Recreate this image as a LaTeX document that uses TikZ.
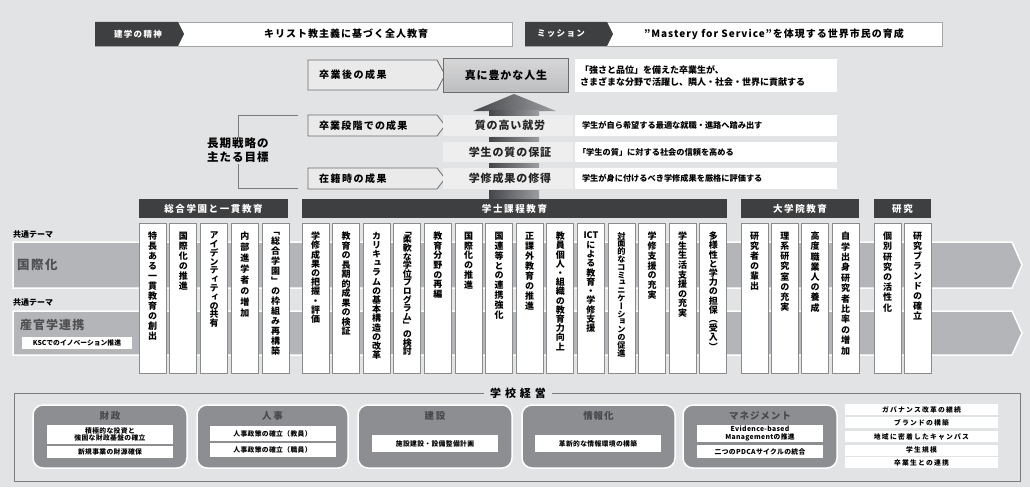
\documentclass[tikz,border=0pt]{standalone}
\usepackage{fontspec}
\setmainfont{Noto Sans CJK JP}
\newfontfamily\jpv{Noto Sans CJK JP}[RawFeature=+vert]
\definecolor{bgc}{HTML}{E2E3E5}
\definecolor{dark}{HTML}{3E3F41}
\definecolor{bandc}{HTML}{B4B5B8}
\definecolor{rboxc}{HTML}{8D8E91}
\definecolor{pentc}{HTML}{EAEAEB}
\definecolor{pentline}{HTML}{6B6C6E}
\definecolor{rowc}{HTML}{EEEEEF}
\definecolor{lineg}{HTML}{7A7B7D}
\definecolor{colline}{HTML}{8A8B8D}
\definecolor{boxline}{HTML}{A5A6A8}
\definecolor{txtg}{HTML}{505052}
\definecolor{rtitle}{HTML}{48494B}
\definecolor{arrdark}{HTML}{45464A}
\definecolor{arrlight}{HTML}{9C9DA0}
\definecolor{bigtop}{HTML}{D6D6D7}
\definecolor{bigbot}{HTML}{BDBEC0}
\newcommand\fsb[3]{\bfseries\fontsize{#1}{#3}\selectfont\addfontfeature{LetterSpace=#2}}
\newcommand\fs[2]{\fsb{#1}{#2}{#1}}
\ExplSyntaxOn
\NewDocumentCommand\vtx{O{10}m}
 {
  \vbox:n
   {
    \skip_set:Nn \baselineskip {#1pt}
    \dim_set:Nn \lineskiplimit {-\c_max_dim}
    \tl_map_inline:nn {#2} { \hbox_to_wd:nn {0pt} { \hss ##1 \hss } }
   }
 }
\ExplSyntaxOff
\tikzset{
  every node/.style={inner sep=0pt,outer sep=0pt},
  topbox/.style={fill=white,draw=boxline,line width=0.8pt},
  tabshape/.style={fill=dark},
  pentshape/.style={fill=pentc,draw=pentline,line width=0.8pt},
  rowband/.style={fill=rowc},
  descbox/.style={fill=white},
  hdr/.style={fill=dark,text=white,font=\fs{9.5}{17}},
  colbox/.style={fill=white,draw=colline,line width=0.7pt,minimum width=27pt,minimum height=150pt,anchor=north west},
  coltext/.style={anchor=north,font={\jpv\bfseries\fontsize{9}{9}\selectfont},text=black},
  bandshape/.style={fill=bandc,draw=white,line width=1.5pt},
  rboxshape/.style={fill=rboxc,draw=white,line width=1.5pt,rounded corners=10pt},
  rtitle/.style={text=rtitle,font=\fs{9.5}{18}},
  ibox/.style={fill=white,minimum width=126pt,anchor=north west,font=\fsb{6.8}{5}{7.6},align=center},
  lbox/.style={fill=white,minimum width=153pt,anchor=north west,font=\fs{6.8}{18}},
  shaft/.style={left color=arrdark,right color=arrlight}
}
\newcommand\colm[4][10]{%
  \node[colbox] (#2) at (#3,223) {};
  \node[coltext] (#2t) at (#3+13.5,232) {\vtx[#1]{#4}};
}
\begin{document}
\begin{tikzpicture}[x=1pt,y=-1pt]
\useasboundingbox (0,0) rectangle (1030,487);
\fill[bgc] (0,0) rectangle (1030,487);

% ---- top row
\draw[topbox] (95,22) rectangle (512,46);
\fill[tabshape] (95,22) -- (178,22) -- (184,34) -- (178,46) -- (95,46) -- cycle;
\node[text=white,font=\fs{8.5}{15}] (kengaku) at (138,34) {建学の精神};
\node[font=\fs{10}{10}] (kirisuto) at (346,34) {キリスト教主義に基づく全人教育};
\draw[topbox] (525,22) rectangle (942,46);
\fill[tabshape] (525,22) -- (607,22) -- (613,34) -- (607,46) -- (525,46) -- cycle;
\node[text=white,font=\fs{8.5}{15}] (mission) at (561,34) {ミッション};
\node[font=\fs{10}{10}] (mastery) at (774,34) {\char34 Mastery for Service\char34 を体現する世界市民の育成};

% ---- outcomes
\draw[pentshape] (308,60) -- (437,60) -- (445,75) -- (437,90) -- (308,90) -- cycle;
\draw[pentshape] (308,115) -- (437,115) -- (445,125.5) -- (437,136) -- (308,136) -- cycle;
\draw[pentshape] (308,168) -- (437,168) -- (445,178.5) -- (437,189) -- (308,189) -- cycle;
\node[anchor=west,font=\fs{10}{15}] (sotsugyogo) at (319,75) {卒業後の成果};
\node[anchor=west,font=\fs{10}{12}] (sotsugyodankai) at (319,125.5) {卒業段階での成果};
\node[anchor=west,font=\fs{10}{15}] (zaiseki) at (319,178.5) {在籍時の成果};

\fill[rowband] (443,115) rectangle (573,136);
\fill[rowband] (443,142) rectangle (573,162);
\fill[rowband] (443,168) rectangle (573,189);
\shade[top color=bigtop,bottom color=bigbot] (443,59) rectangle (568,92);
\draw[pentline,line width=1pt] (443,59) rectangle (568,92);

\shade[shaft] (473,111) -- (514,94) -- (556,111) -- cycle;
\shade[shaft] (489,110.5) rectangle (539,115);
\shade[shaft] (489,137) rectangle (539,141);
\shade[shaft] (489,163) rectangle (539,167);
\shade[shaft] (489,190) rectangle (539,198);

\node[font=\fs{11}{8}] (yutaka) at (506,75.5) {真に豊かな人生};
\node[font=\fs{11}{8},text=black!85] (shitsu) at (510,125.5) {質の高い就労};
\node[font=\fs{11}{8},text=black!85] (hosho) at (510,152) {学生の質の保証};
\node[font=\fs{11}{8},text=black!85] (shutoku) at (510,178.5) {学修成果の修得};

\fill[descbox] (575,59) rectangle (837,92);
\fill[descbox] (575,115) rectangle (837,136);
\fill[descbox] (575,142) rectangle (837,162);
\fill[descbox] (575,168) rectangle (837,189);
\node[anchor=west,align=left,font=\fsb{9}{0}{12}] (d1) at (580,76) {「強さと品位」を備えた卒業生が、\\さまざまな分野で活躍し、隣人・社会・世界に貢献する};
\node[anchor=west,font=\fs{8.2}{0}] (d2) at (582,125.5) {学生が自ら希望する最適な就職・進路へ踏み出す};
\node[anchor=west,font=\fs{8.2}{0}] (d3) at (578,152) {「学生の質」に対する社会の信頼を高める};
\node[anchor=west,font=\fs{8.2}{0}] (d4) at (582,178.5) {学生が身に付けるべき学修成果を厳格に評価する};

\draw[lineg,line width=0.7pt] (298,115) -- (238,115) -- (238,137);
\draw[lineg,line width=0.7pt] (238,164) -- (238,188) -- (298,188);
\node[anchor=west,align=left,font=\fsb{11.5}{9}{14}] (choki) at (207,150.5) {長期戦略の\\主たる目標};

% ---- common themes
\draw[bandshape] (13,242) -- (1012,242) -- (1022,265) -- (1012,288) -- (13,288) -- cycle;
\draw[bandshape] (13,311) -- (1012,311) -- (1022,333) -- (1012,355) -- (13,355) -- cycle;
\node[anchor=west,font=\fs{8}{0}] (theme1) at (13,234) {共通テーマ};
\node[anchor=west,font=\fs{8}{0}] (theme2) at (13,302) {共通テーマ};
\node[anchor=west,font=\fs{12.5}{12},text=txtg] (kokusai) at (17,265) {国際化};
\node[anchor=west,font=\fs{12}{9},text=txtg] (sankan) at (20,325) {産官学連携};
\node[fill=white,minimum width=110pt,minimum height=12pt,anchor=north west,font=\fs{6.8}{0}] (ksc) at (22,337) {KSCでのイノベーション推進};

% ---- headers
\node[hdr,minimum width=149pt,minimum height=19pt,anchor=north west] (h1) at (139,199) {総合学園と一貫教育};
\node[hdr,minimum width=425pt,minimum height=19pt,anchor=north west] (h2) at (302,199) {学士課程教育};
\node[hdr,minimum width=118pt,minimum height=19pt,anchor=north west] (h3) at (741,199) {大学院教育};
\node[hdr,minimum width=57pt,minimum height=19pt,anchor=north west] (h4) at (874,199) {研究};

% ---- columns
\colm{a1}{139}{特長ある一貫教育の創出}
\colm{a2}{169.75}{国際化の推進}
\colm[8.8]{a3}{200.5}{アイデンティティの共有}
\colm[11]{a4}{231.25}{内部進学者の増加}
\colm{a5}{262}{「総合学園」の枠組み再構築}

\colm[9.2]{b1}{302}{学修成果の把握・評価}
\colm[9.5]{b2}{332.6}{教育の長期的成果の検証}
\colm[9.2]{b3}{363.2}{カリキュラムの基本構造の改革}
\colm[8.6]{b4}{393.8}{「柔軟な学位プログラム」の検討}
\colm[9.6]{b5}{424.4}{教育分野の再編}
\colm[9.8]{b6}{455}{国際化の推進}
\colm[9.9]{b7}{485.6}{国連等との連携強化}
\colm{b8}{516.2}{正課外教育の推進}
\colm[9.2]{b9}{546.8}{教員個人・組織の教育力向上}
\colm[9.3]{b10}{577.4}{{ICT}による教育・学修支援}
\node[colbox] (b11) at (608,223) {};
\node[coltext,font={\jpv\bfseries\fontsize{8.2}{8.2}\selectfont}] (b11t) at (621.5,232) {\vtx[7.8]{対面的なコミュニケーションの促進}};
\colm[9.8]{b12}{638.6}{学修支援の充実}
\colm[9.6]{b13}{669.2}{学生生活支援の充実}
\colm[9.2]{b14}{699.8}{多様性と学力の担保（受入）}

\colm{c1}{741}{研究者の輩出}
\colm[10.2]{c2}{771.3}{理系研究室の充実}
\colm[10.2]{c3}{801.7}{高度職業人の養成}
\colm[10.4]{c4}{832}{自学出身研究者比率の増加}

\colm[10.2]{r1}{874}{個別研究の活性化}
\colm{r2}{904}{研究ブランドの確立}

% ---- school management
\draw[lineg,line width=0.8pt] (14,393) rectangle (1020,481);
\node[fill=bgc,inner xsep=6pt,inner ysep=3pt,font=\fs{11}{35}] (keiei) at (518,393) {学校経営};

\draw[rboxshape] (33,405) rectangle (187,468);
\draw[rboxshape] (197,405) rectangle (348,468);
\draw[rboxshape] (358,405) rectangle (512,468);
\draw[rboxshape] (522,405) rectangle (675,468);
\draw[rboxshape] (683,405) rectangle (837,468);
\node[rtitle] (zaisei) at (110,415.5) {財政};
\node[rtitle] (jinji) at (272.5,415.5) {人事};
\node[rtitle] (kensetsu) at (435,415.5) {建設};
\node[rtitle,font=\fs{9.5}{10}] (johoka) at (598.5,415.5) {情報化};
\node[rtitle,font=\fs{9.5}{10}] (manage) at (760,415.5) {マネジメント};

\node[ibox,minimum height=19pt] (z1) at (47,425) {積極的な投資と\\強固な財政基盤の確立};
\node[ibox,minimum height=12pt] (z2) at (47,446) {新規事業の財源確保};
\node[ibox,minimum height=15pt] (j1) at (209.5,426) {人事政策の確立（教員）};
\node[ibox,minimum height=14pt] (j2) at (209.5,443) {人事政策の確立（職員）};
\node[ibox,minimum height=17pt] (k1) at (372,435) {施設建設・設備整備計画};
\node[ibox,minimum height=17pt] (i1) at (535,435) {革新的な情報環境の構築};
\node[ibox,minimum height=17pt] (m1) at (697,425) {Evidence-based\\Managementの推進};
\node[ibox,minimum height=13pt] (m2) at (697,445) {二つのPDCAサイクルの統合};

\node[lbox,minimum height=11pt] (l1) at (845,404) {ガバナンス改革の継続};
\node[lbox,minimum height=11pt] (l2) at (845,417) {ブランドの構築};
\node[lbox,minimum height=11pt] (l3) at (845,431) {地域に密着したキャンパス};
\node[lbox,minimum height=11pt] (l4) at (845,444.5) {学生規模};
\node[lbox,minimum height=11pt] (l5) at (845,457) {卒業生との連携};
\end{tikzpicture}
\end{document}
